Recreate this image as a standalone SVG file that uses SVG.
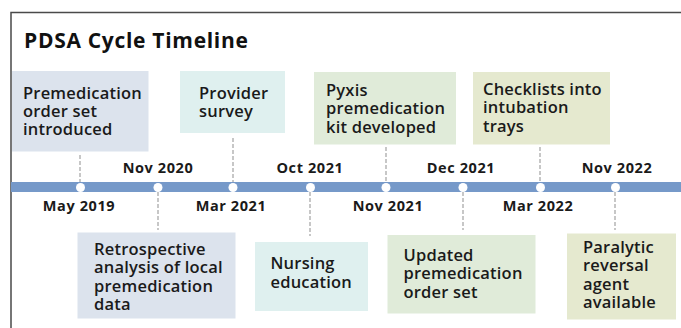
<svg xmlns="http://www.w3.org/2000/svg" width="681" height="328" viewBox="0 0 681 328">
  <style>
    .title { font-family: "Open Sans", "Noto Sans", sans-serif; font-weight: 700; font-size: 21px; letter-spacing: 0.7px; fill: #111; }
    .lbl { font-family: "Open Sans", "Noto Sans", sans-serif; font-weight: 600; font-size: 16.5px; letter-spacing: 0.2px; fill: #1a1a1a; }
    .date { font-family: "Open Sans", "Noto Sans", sans-serif; font-weight: 700; font-size: 14.5px; letter-spacing: 0.6px; fill: #1a1a1a; text-anchor: middle; }
    .c1 { fill: #dce3ed; }
    .c2 { fill: #dff0ef; }
    .c3 { fill: #e0ebd9; }
    .c4 { fill: #e5e9cf; }
    .tick { stroke: #8f8f8f; stroke-width: 1; stroke-dasharray: 4 2; fill: none; }
    .dot { fill: #ffffff; }
  </style>

  <!-- frame -->
  <path d="M11 328 V12.5 H681" fill="none" stroke="#4a4a4a" stroke-width="1.5"/>

  <text class="title" x="24" y="48">PDSA Cycle Timeline</text>

  <!-- connectors: dashed ticks between events and the axis -->
  <g id="connectors">
    <line class="tick" x1="80" y1="155" x2="80" y2="183"/>
    <line class="tick" x1="233" y1="138" x2="233" y2="183"/>
    <line class="tick" x1="386" y1="147" x2="386" y2="183"/>
    <line class="tick" x1="540" y1="147" x2="540" y2="183"/>
    <line class="tick" x1="158" y1="192" x2="158" y2="230"/>
    <line class="tick" x1="310" y1="192" x2="310" y2="236"/>
    <line class="tick" x1="463" y1="192" x2="463" y2="230"/>
    <line class="tick" x1="615" y1="192" x2="615" y2="230"/>
  </g>

  <!-- time axis -->
  <g id="axis">
    <rect x="11" y="182" width="670" height="10" fill="#7699c9"/>
    <circle class="dot" cx="80.5" cy="187.5" r="4.5"/>
    <circle class="dot" cx="158" cy="187.5" r="4.5"/>
    <circle class="dot" cx="233" cy="187.5" r="4.5"/>
    <circle class="dot" cx="310.5" cy="187.5" r="4.5"/>
    <circle class="dot" cx="386" cy="187.5" r="4.5"/>
    <circle class="dot" cx="463" cy="187.5" r="4.5"/>
    <circle class="dot" cx="540.5" cy="187.5" r="4.5"/>
    <circle class="dot" cx="615.5" cy="187.5" r="4.5"/>
  </g>

  <!-- date labels -->
  <g id="dates">
    <text class="date" x="158" y="173">Nov 2020</text>
    <text class="date" x="310" y="173">Oct 2021</text>
    <text class="date" x="461" y="173">Dec 2021</text>
    <text class="date" x="617" y="173">Nov 2022</text>
    <text class="date" x="79" y="211">May 2019</text>
    <text class="date" x="231" y="211">Mar 2021</text>
    <text class="date" x="388" y="211">Nov 2021</text>
    <text class="date" x="538" y="211">Mar 2022</text>
  </g>

  <!-- events above the axis -->
  <g id="ev-order-set">
    <rect class="c1" x="12" y="71" width="136.5" height="80.5"/>
    <text class="lbl" x="23" y="99">Premedication<tspan x="23" dy="18.2">order set</tspan><tspan x="23" dy="18.2">introduced</tspan></text>
  </g>
  <g id="ev-provider-survey">
    <rect class="c2" x="180" y="71" width="105" height="62"/>
    <text class="lbl" x="199" y="99">Provider<tspan x="199" dy="18">survey</tspan></text>
  </g>
  <g id="ev-pyxis-kit">
    <rect class="c3" x="314" y="72" width="142" height="72.5"/>
    <text class="lbl" x="326" y="95.5">Pyxis<tspan x="326" dy="18.5">premedication</tspan><tspan x="326" dy="18.5">kit developed</tspan></text>
  </g>
  <g id="ev-checklists">
    <rect class="c4" x="473" y="72" width="137" height="72.5"/>
    <text class="lbl" x="483" y="95">Checklists into<tspan x="483" dy="18.3">intubation</tspan><tspan x="483" dy="18.3">trays</tspan></text>
  </g>

  <!-- events below the axis -->
  <g id="ev-retrospective">
    <rect class="c1" x="77.5" y="232.5" width="158" height="86"/>
    <text class="lbl" x="94" y="254.5">Retrospective<tspan x="94" dy="18.5">analysis of local</tspan><tspan x="94" dy="18.5">premedication</tspan><tspan x="94" dy="18.5">data</tspan></text>
  </g>
  <g id="ev-nursing">
    <rect class="c2" x="255" y="242" width="113" height="69"/>
    <text class="lbl" x="270.5" y="269">Nursing<tspan x="270.5" dy="18.5">education</tspan></text>
  </g>
  <g id="ev-updated-order-set">
    <rect class="c3" x="387.5" y="235" width="148" height="78.5"/>
    <text class="lbl" x="403.5" y="261">Updated<tspan x="403.5" dy="18.3">premedication</tspan><tspan x="403.5" dy="18.3">order set</tspan></text>
  </g>
  <g id="ev-reversal-agent">
    <rect class="c4" x="567" y="233.5" width="109" height="86"/>
    <text class="lbl" x="583" y="252.5">Paralytic<tspan x="583" dy="18.5">reversal</tspan><tspan x="583" dy="18.5">agent</tspan><tspan x="583" dy="18.5">available</tspan></text>
  </g>
</svg>
